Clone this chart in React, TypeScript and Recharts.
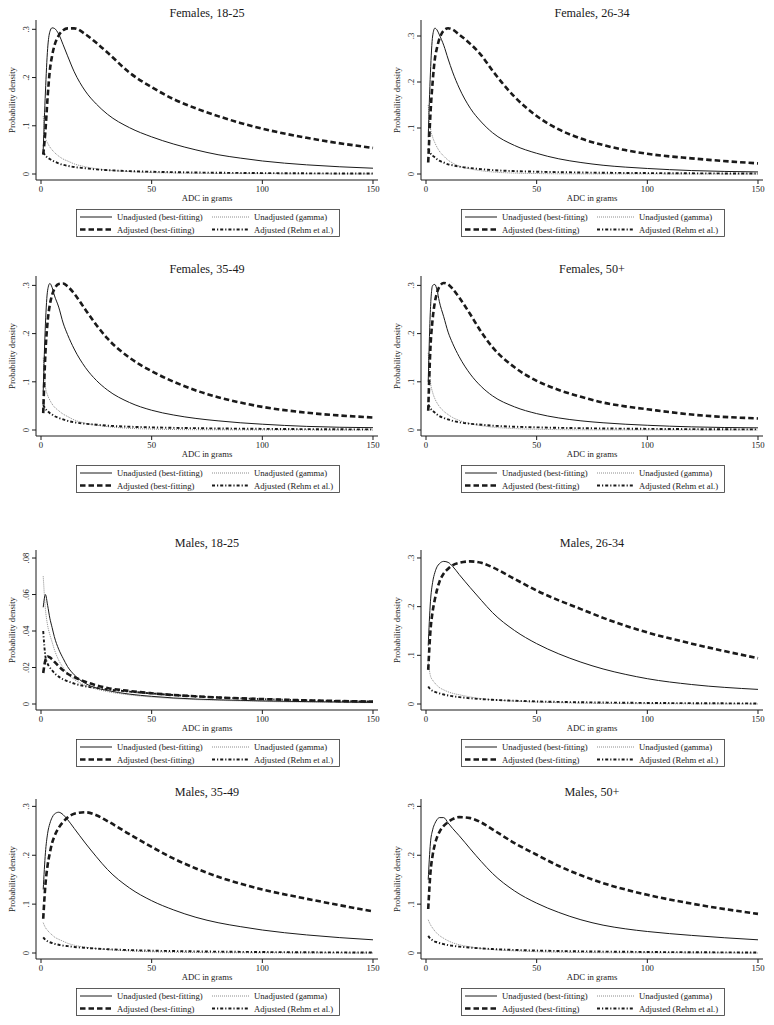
import { LineChart, Line, XAxis, YAxis, Legend } from 'recharts'

const SERIF = '"Liberation Serif", "Times New Roman", serif'
const INK = '#1a1a1a'

const adc = [1, 2, 3, 4, 5, 6, 8, 10, 12, 15, 20, 25, 30, 40, 50, 60, 70, 80, 90, 100, 120, 150]

// Females, 18-25
const f1825Unadj = [0.05, 0.17, 0.26, 0.295, 0.303, 0.302, 0.29, 0.268, 0.245, 0.212, 0.172, 0.145, 0.124, 0.096, 0.077, 0.062, 0.05, 0.04, 0.033, 0.027, 0.019, 0.012]
const f1825Adj = [0.04, 0.09, 0.16, 0.215, 0.245, 0.265, 0.287, 0.298, 0.302, 0.302, 0.29, 0.272, 0.252, 0.21, 0.18, 0.155, 0.136, 0.12, 0.106, 0.094, 0.075, 0.054]
const f1825Gamma = [0.12, 0.075, 0.064, 0.056, 0.05, 0.045, 0.037, 0.031, 0.027, 0.021, 0.015, 0.011, 0.008, 0.005, 0.003, 0.002, 0.0015, 0.001, 0.0008, 0.0006, 0.0003, 0.0001]
const f1825Rehm = [0.045, 0.038, 0.034, 0.031, 0.028, 0.026, 0.022, 0.019, 0.017, 0.0145, 0.012, 0.0095, 0.008, 0.006, 0.0047, 0.0038, 0.0031, 0.0026, 0.0022, 0.0019, 0.0014, 0.0009]

// Females, 26-34
const f2634Unadj = [0.08, 0.22, 0.3, 0.317, 0.313, 0.303, 0.28, 0.25, 0.222, 0.187, 0.143, 0.113, 0.09, 0.062, 0.045, 0.033, 0.025, 0.019, 0.015, 0.012, 0.0075, 0.0045]
const f2634Adj = [0.025, 0.13, 0.2, 0.25, 0.275, 0.293, 0.312, 0.317, 0.314, 0.303, 0.283, 0.258, 0.225, 0.168, 0.126, 0.097, 0.077, 0.063, 0.052, 0.044, 0.034, 0.023]
const f2634Gamma = [0.15, 0.1, 0.08, 0.068, 0.058, 0.05, 0.039, 0.03, 0.024, 0.017, 0.011, 0.007, 0.0045, 0.002, 0.001, 0.0005, 0.0003, 0.0002, 0.0001, 0.0001, 0, 0]
const f2634Rehm = [0.055, 0.045, 0.04, 0.036, 0.032, 0.029, 0.025, 0.021, 0.019, 0.016, 0.013, 0.0105, 0.0085, 0.0063, 0.005, 0.004, 0.0033, 0.0027, 0.0023, 0.002, 0.0015, 0.001]

// Females, 35-49
const f3549Unadj = [0.08, 0.22, 0.29, 0.304, 0.296, 0.28, 0.255, 0.222, 0.198, 0.168, 0.13, 0.103, 0.083, 0.057, 0.041, 0.031, 0.024, 0.019, 0.015, 0.012, 0.0075, 0.0048]
const f3549Adj = [0.035, 0.16, 0.225, 0.26, 0.28, 0.292, 0.303, 0.304, 0.298, 0.283, 0.25, 0.218, 0.19, 0.15, 0.122, 0.1, 0.082, 0.068, 0.057, 0.048, 0.036, 0.026]
const f3549Gamma = [0.15, 0.09, 0.072, 0.062, 0.054, 0.048, 0.04, 0.033, 0.028, 0.021, 0.014, 0.01, 0.007, 0.0035, 0.002, 0.001, 0.0006, 0.0004, 0.0002, 0.0001, 0, 0]
const f3549Rehm = [0.052, 0.044, 0.039, 0.035, 0.032, 0.029, 0.025, 0.022, 0.019, 0.016, 0.013, 0.011, 0.009, 0.0068, 0.0055, 0.0045, 0.0038, 0.0032, 0.0028, 0.0024, 0.0018, 0.0012]

// Females, 50+
const f50Unadj = [0.1, 0.25, 0.3, 0.302, 0.29, 0.267, 0.235, 0.203, 0.18, 0.152, 0.116, 0.09, 0.071, 0.048, 0.034, 0.025, 0.019, 0.015, 0.012, 0.0098, 0.0065, 0.0045]
const f50Adj = [0.04, 0.17, 0.23, 0.265, 0.285, 0.297, 0.305, 0.302, 0.293, 0.275, 0.24, 0.203, 0.172, 0.13, 0.102, 0.083, 0.069, 0.057, 0.049, 0.043, 0.032, 0.024]
const f50Gamma = [0.16, 0.1, 0.078, 0.065, 0.056, 0.049, 0.039, 0.032, 0.026, 0.02, 0.013, 0.009, 0.006, 0.003, 0.0015, 0.0008, 0.0004, 0.0002, 0.0001, 0.0001, 0, 0]
const f50Rehm = [0.053, 0.045, 0.04, 0.036, 0.032, 0.029, 0.025, 0.022, 0.019, 0.016, 0.013, 0.011, 0.009, 0.0068, 0.0055, 0.0045, 0.0038, 0.0032, 0.0028, 0.0024, 0.0018, 0.0012]

// Males, 18-25
const m1825Unadj = [0.053, 0.06, 0.054, 0.047, 0.042, 0.037, 0.03, 0.025, 0.0205, 0.016, 0.0113, 0.0088, 0.0074, 0.0054, 0.0042, 0.0033, 0.0027, 0.0023, 0.002, 0.0017, 0.0013, 0.0009]
const m1825Adj = [0.017, 0.024, 0.026, 0.0255, 0.0245, 0.0232, 0.0207, 0.0185, 0.0166, 0.0148, 0.0122, 0.0102, 0.0088, 0.0071, 0.0059, 0.0049, 0.0042, 0.0036, 0.0031, 0.0027, 0.002, 0.0013]
const m1825Gamma = [0.07, 0.052, 0.043, 0.038, 0.034, 0.03, 0.024, 0.02, 0.0165, 0.0135, 0.0102, 0.0082, 0.0068, 0.005, 0.0038, 0.003, 0.0024, 0.002, 0.0017, 0.0014, 0.001, 0.0007]
const m1825Rehm = [0.04, 0.026, 0.022, 0.02, 0.0185, 0.017, 0.015, 0.0135, 0.0125, 0.0112, 0.0097, 0.0088, 0.008, 0.0068, 0.0058, 0.0049, 0.0042, 0.0036, 0.0031, 0.0027, 0.002, 0.0013]

// Males, 26-34
const m2634Unadj = [0.12, 0.21, 0.25, 0.27, 0.282, 0.288, 0.293, 0.291, 0.283, 0.266, 0.239, 0.213, 0.188, 0.151, 0.124, 0.103, 0.086, 0.072, 0.061, 0.052, 0.04, 0.03]
const m2634Adj = [0.07, 0.15, 0.19, 0.215, 0.235, 0.25, 0.268, 0.278, 0.285, 0.29, 0.293, 0.29, 0.281, 0.257, 0.233, 0.213, 0.195, 0.177, 0.161, 0.147, 0.124, 0.094]
const m2634Gamma = [0.085, 0.058, 0.049, 0.043, 0.038, 0.034, 0.029, 0.025, 0.022, 0.019, 0.0145, 0.011, 0.0088, 0.0058, 0.004, 0.0027, 0.0018, 0.0012, 0.0008, 0.0005, 0.0002, 0.0001]
const m2634Rehm = [0.036, 0.03, 0.027, 0.025, 0.0235, 0.022, 0.0195, 0.0175, 0.016, 0.0142, 0.0118, 0.01, 0.0087, 0.0067, 0.0053, 0.0043, 0.0036, 0.003, 0.0026, 0.0022, 0.0017, 0.0011]

// Males, 35-49
const m3549Unadj = [0.13, 0.205, 0.245, 0.265, 0.277, 0.284, 0.288, 0.283, 0.273, 0.255, 0.225, 0.197, 0.171, 0.133, 0.107, 0.088, 0.073, 0.062, 0.054, 0.047, 0.037, 0.027]
const m3549Adj = [0.07, 0.14, 0.18, 0.205, 0.225, 0.238, 0.256, 0.268, 0.277, 0.285, 0.288, 0.282, 0.27, 0.243, 0.217, 0.193, 0.173, 0.156, 0.142, 0.13, 0.111, 0.085]
const m3549Gamma = [0.062, 0.052, 0.046, 0.041, 0.037, 0.033, 0.028, 0.024, 0.02, 0.016, 0.012, 0.009, 0.007, 0.0042, 0.0026, 0.0016, 0.001, 0.0006, 0.0004, 0.0002, 0.0001, 0]
const m3549Rehm = [0.032, 0.027, 0.024, 0.022, 0.0205, 0.019, 0.0168, 0.0152, 0.014, 0.0124, 0.0105, 0.009, 0.0078, 0.006, 0.0048, 0.004, 0.0033, 0.0028, 0.0024, 0.002, 0.0015, 0.001]

// Males, 50+
const m50Unadj = [0.15, 0.225, 0.252, 0.265, 0.273, 0.277, 0.277, 0.266, 0.255, 0.24, 0.213, 0.187, 0.163, 0.127, 0.102, 0.083, 0.068, 0.057, 0.0495, 0.044, 0.036, 0.027]
const m50Adj = [0.09, 0.164, 0.2, 0.222, 0.237, 0.247, 0.26, 0.268, 0.274, 0.278, 0.276, 0.267, 0.253, 0.225, 0.201, 0.178, 0.159, 0.143, 0.13, 0.119, 0.101, 0.08]
const m50Gamma = [0.068, 0.058, 0.051, 0.045, 0.04, 0.036, 0.03, 0.025, 0.021, 0.017, 0.0125, 0.0093, 0.007, 0.0043, 0.0026, 0.0016, 0.001, 0.0006, 0.0004, 0.0002, 0.0001, 0]
const m50Rehm = [0.035, 0.029, 0.026, 0.0235, 0.022, 0.0205, 0.018, 0.016, 0.0147, 0.013, 0.011, 0.0094, 0.0081, 0.0063, 0.005, 0.0041, 0.0034, 0.0029, 0.0025, 0.0021, 0.0016, 0.001]

const xTicks = [0, 50, 100, 150]
const densityTicks = [0, 0.1, 0.2, 0.3]
const youngMaleTicks = [0, 0.02, 0.04, 0.06, 0.08]

const seriesNames = {
  unadj: 'Unadjusted (best-fitting)',
  gamma: 'Unadjusted (gamma)',
  adj: 'Adjusted (best-fitting)',
  rehm: 'Adjusted (Rehm et al.)',
}

const styles: Record<string, { stroke: string; width: number; dash?: string }> = {
  unadj: { stroke: INK, width: 1 },
  adj: { stroke: INK, width: 2.6, dash: '5.5 3' },
  gamma: { stroke: '#8c8c8c', width: 1, dash: '1 1' },
  rehm: { stroke: INK, width: 1.9, dash: '3 2 1.2 2' },
}

// yMax = value at top of plot area, so 0 sits 6px above the x axis like the original
const panels = [
  { title: 'Females, 18-25', left: 0, top: 0, yMax: 0.3193, ticks: densityTicks, unadj: f1825Unadj, adj: f1825Adj, gamma: f1825Gamma, rehm: f1825Rehm },
  { title: 'Females, 26-34', left: 385, top: 0, yMax: 0.3348, ticks: densityTicks, unadj: f2634Unadj, adj: f2634Adj, gamma: f2634Gamma, rehm: f2634Rehm },
  { title: 'Females, 35-49', left: 0, top: 256, yMax: 0.3195, ticks: densityTicks, unadj: f3549Unadj, adj: f3549Adj, gamma: f3549Gamma, rehm: f3549Rehm },
  { title: 'Females, 50+', left: 385, top: 256, yMax: 0.3195, ticks: densityTicks, unadj: f50Unadj, adj: f50Adj, gamma: f50Gamma, rehm: f50Rehm },
  { title: 'Males, 18-25', left: 0, top: 530, yMax: 0.0844, ticks: youngMaleTicks, unadj: m1825Unadj, adj: m1825Adj, gamma: m1825Gamma, rehm: m1825Rehm },
  { title: 'Males, 26-34', left: 385, top: 530, yMax: 0.3164, ticks: densityTicks, unadj: m2634Unadj, adj: m2634Adj, gamma: m2634Gamma, rehm: m2634Rehm },
  { title: 'Males, 35-49', left: 0, top: 779, yMax: 0.3151, ticks: densityTicks, unadj: m3549Unadj, adj: m3549Adj, gamma: m3549Gamma, rehm: m3549Rehm },
  { title: 'Males, 50+', left: 385, top: 779, yMax: 0.3151, ticks: densityTicks, unadj: m50Unadj, adj: m50Adj, gamma: m50Gamma, rehm: m50Rehm },
]

// stata style: 0 -> "0", 0.1 -> ".1"
const fmt = (v: number) => (v === 0 ? '0' : String(v).replace(/^0/, ''))

function YTick({ x, y, payload }: any) {
  return (
    <text x={x} y={y} transform={`rotate(-90 ${x} ${y})`} textAnchor="middle" fontSize={8.7} fontFamily={SERIF} fill={INK}>
      {fmt(payload.value)}
    </text>
  )
}

function LegendBox() {
  const row = (key: string, x: number, y: number) => {
    const s = styles[key]
    const len = x < 100 ? 32 : 37
    return (
      <g key={key}>
        <line x1={x} x2={x + len} y1={y} y2={y} stroke={s.stroke} strokeWidth={s.width} strokeDasharray={s.dash} />
        <text x={x + len + 5} y={y} dominantBaseline="central" fontSize={8.7} fontFamily={SERIF} fill={INK}>
          {seriesNames[key as keyof typeof seriesNames]}
        </text>
      </g>
    )
  }
  return (
    <svg width={264} height={28} style={{ display: 'block' }}>
      <rect x={0.5} y={0.5} width={263} height={27} fill="#fff" stroke="#333" strokeWidth={0.8} />
      {row('unadj', 4, 8)}
      {row('gamma', 136, 8)}
      {row('adj', 4, 20.5)}
      {row('rehm', 136, 20.5)}
    </svg>
  )
}

function DensityPanel({ p }: { p: (typeof panels)[number] }) {
  const data = adc.map((x, i) => ({ x, unadj: p.unadj[i], gamma: p.gamma[i], adj: p.adj[i], rehm: p.rehm[i] }))
  const yMin = -p.yMax * (6 / 154)
  return (
    <div style={{ position: 'absolute', left: p.left, top: p.top, width: 385, height: 245 }}>
      <div
        style={{
          position: 'absolute',
          left: 36,
          width: 342,
          top: 6,
          lineHeight: '14px',
          textAlign: 'center',
          fontFamily: SERIF,
          fontSize: 12.2,
          color: INK,
        }}
      >
        {p.title}
      </div>
      <LineChart width={385} height={245} data={data} margin={{ top: 20, right: 7, bottom: 35, left: 0 }}>
        <XAxis
          dataKey="x"
          type="number"
          domain={[-2.26, 152.26]}
          ticks={xTicks}
          allowDataOverflow
          tickSize={4}
          tickMargin={2}
          height={30}
          stroke={INK}
          tick={{ fontSize: 8.7, fontFamily: SERIF, fill: INK }}
          label={{
            content: ({ viewBox }: any) => (
              <text x={viewBox.x + viewBox.width / 2} y={viewBox.y + 21} textAnchor="middle" fontSize={8.7} fontFamily={SERIF} fill={INK}>
                ADC in grams
              </text>
            ),
          }}
        />
        <YAxis
          type="number"
          domain={[yMin, p.yMax]}
          ticks={p.ticks}
          allowDataOverflow
          interval={0}
          width={36}
          tickSize={4}
          tickMargin={3}
          stroke={INK}
          tick={<YTick />}
          label={{
            content: ({ viewBox }: any) => {
              const cx = viewBox.x + 15
              const cy = viewBox.y + viewBox.height / 2
              return (
                <text x={cx} y={cy} transform={`rotate(-90 ${cx} ${cy})`} textAnchor="middle" fontSize={8.7} fontFamily={SERIF} fill={INK}>
                  Probability density
                </text>
              )
            },
          }}
        />
        <Legend
          layout="vertical"
          align="center"
          verticalAlign="middle"
          wrapperStyle={{ left: 76, top: 209, width: 264, height: 28 }}
          content={() => <LegendBox />}
        />
        {(['gamma', 'rehm', 'unadj', 'adj'] as const).map((k) => (
          <Line
            key={k}
            dataKey={k}
            name={seriesNames[k]}
            type="monotone"
            stroke={styles[k].stroke}
            strokeWidth={styles[k].width}
            strokeDasharray={styles[k].dash}
            dot={false}
            activeDot={false}
            isAnimationActive={false}
          />
        ))}
      </LineChart>
    </div>
  )
}

export default function App() {
  return (
    <div style={{ position: 'absolute', left: 0, top: 0, width: 774, height: 1025, background: '#fff' }}>
      {panels.map((p) => (
        <DensityPanel key={p.title} p={p} />
      ))}
    </div>
  )
}
